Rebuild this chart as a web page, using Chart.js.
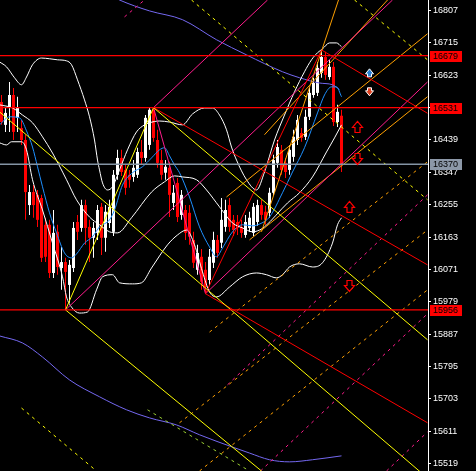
<!DOCTYPE html>
<html>
<head>
<meta charset="utf-8">
<style>
  html, body { margin: 0; padding: 0; background: #000; }
  canvas { display: block; }
</style>
<script src="https://cdn.jsdelivr.net/npm/chart.js@4.4.1/dist/chart.umd.min.js"></script>
</head>
<body>
<canvas id="chart" width="476" height="471"></canvas>
<script>
'use strict';

// candles, one per bar (bar index = position in the array)
const opens  = [16547,16482,16533,16567,16502,16473,16439,16254,16291,16283,16274,16198,16198,16061,16178,16075,16092,16027,16075,16206,
                16189,16254,16192,16161,16175,16249,16161,16203,16178,16340,16388,16354,16340,16334,16340,16405,16388,16425,16525,16439,
                16382,16346,16360,16260,16317,16226,16240,16232,16155,16070,16107,16070,16041,16090,16155,16147,16192,16254,16212,16206,
                16192,16169,16189,16175,16206,16254,16235,16232,16289,16374,16411,16374,16354,16391,16439,16459,16448,16505,16567,16573,
                16630,16675,16618,16647,16490,16508];
const highs  = [16567,16533,16604,16587,16562,16496,16454,16311,16311,16297,16283,16218,16212,16240,16198,16135,16104,16098,16206,16226,
                16269,16269,16212,16206,16254,16260,16254,16269,16354,16411,16411,16368,16354,16382,16417,16439,16510,16530,16531,16468,
                16411,16382,16377,16311,16331,16297,16254,16254,16178,16141,16129,16092,16129,16178,16169,16274,16269,16274,16226,16226,
                16212,16226,16235,16260,16269,16269,16252,16303,16397,16439,16425,16388,16425,16468,16510,16473,16525,16587,16616,16661,
                16695,16690,16667,16661,16539,16525];
const lows   = [16482,16462,16462,16439,16462,16425,16212,16226,16218,16192,16092,16092,16047,16047,16056,16013,15956,15976,16064,16155,
                16178,16141,16092,16104,16155,16112,16121,16189,16166,16326,16337,16283,16303,16320,16331,16368,16377,16411,16434,16360,
                16326,16326,16220,16240,16206,16212,16155,16141,16075,16056,16013,16002,16027,16075,16104,16132,16178,16178,16166,16169,
                16161,16161,16178,16166,16195,16212,16198,16218,16280,16360,16340,16331,16340,16377,16425,16434,16439,16496,16559,16564,
                16616,16610,16610,16479,16476,16348];
const closes = [16490,16516,16567,16462,16530,16439,16291,16291,16254,16212,16104,16107,16061,16175,16078,16092,16064,16084,16189,16178,
                16254,16189,16161,16189,16240,16161,16235,16249,16340,16388,16348,16303,16326,16360,16405,16388,16502,16525,16445,16374,
                16340,16363,16283,16289,16220,16283,16175,16164,16090,16118,16036,16021,16107,16155,16118,16212,16240,16192,16183,16189,
                16175,16206,16218,16249,16254,16226,16212,16289,16382,16419,16354,16348,16411,16448,16496,16445,16505,16573,16601,16644,
                16675,16624,16647,16490,16519,16370];

// price axis
const tickValues = [16807,16715,16623,16531,16439,16347,16255,16163,16071,15979,15887,15795,15703,15611,15519];
const redLevels = [16679, 16531, 15956];
const grayLevels = [16370];

// indicator curves: [bar, price]
const fastMa = [[-0.5,16482],[2,16505],[4.5,16502],[6.25,16465],[7.75,16419],[9,16363],[10.25,16306],[12,16232],[13.75,16175],
  [15.75,16118],[17.5,16104],[18.75,16115],[20.75,16146],[22.75,16164],[24.5,16192],[27,16212],[28.25,16240],[30.25,16311],
  [32.75,16346],[35.25,16363],[37.5,16388],[39.5,16411],[40.75,16417],[42,16394],[43.25,16368],[44.5,16346],[47,16277],
  [49.5,16192],[52,16135],[53.75,16107],[55.25,16132],[57.75,16178],[60.25,16198],[62.75,16195],[64.5,16200],[67,16220],
  [70.25,16289],[72.75,16348],[75.75,16417],[79,16516],[80.75,16567],[82.5,16590],[83.75,16590],[85,16562]];
const bandUpper = [[-0.5,16661],[1.25,16647],[3.25,16616],[5,16596],[6.25,16618],[7.75,16653],[10,16672],[12,16670],[14,16667],
  [16.25,16664],[17.5,16653],[19,16610],[20.75,16553],[22,16505],[23.25,16439],[24,16382],[24.5,16354],[25.25,16317],
  [26.5,16297],[27.75,16306],[29.5,16354],[31.5,16411],[33.75,16462],[35.75,16482],[37,16488],[39.5,16493],[42,16490],
  [45.25,16482],[47.75,16513],[50.75,16530],[52.75,16530],[54.5,16510],[56.25,16468],[57.5,16419],[58.75,16382],
  [61.25,16326],[63.75,16297],[65.75,16348],[68.25,16439],[70.75,16510],[73.25,16576],[75.75,16633],[77.5,16667],
  [79,16687],[80.25,16698],[82,16715],[83.75,16715],[85,16704]];
const bandMiddle = [[-0.5,16539],[2.75,16530],[5.25,16510],[7.75,16488],[10.25,16448],[12.75,16402],[16.25,16326],[18.75,16269],
  [22,16220],[24.5,16198],[27,16178],[29,16175],[32.5,16218],[37.5,16291],[40.75,16320],[43.25,16337],[45.25,16334],
  [48.75,16326],[51.25,16297],[54.5,16249],[57.75,16203],[60.25,16189],[62.75,16178],[64.5,16183],[65.75,16192],
  [71.5,16260],[74.5,16289],[77.75,16334],[81.25,16405],[83.25,16445],[85,16482]];
const bandLower = [[-0.5,16431],[1.25,16425],[2.5,16434],[5,16434],[6.25,16411],[7.75,16326],[10.25,16240],[12.75,16146],
  [15.25,16050],[16.25,15993],[17.5,15964],[19.5,15947],[21.5,15950],[23.75,16013],[25.25,16050],[27.75,16056],[29.5,16033],
  [32.75,16030],[35,16033],[37.5,16075],[41.5,16141],[44,16169],[46.25,16183],[48.25,16141],[50.25,16064],[52,16007],
  [53.75,15993],[57,16021],[60.25,16050],[63.75,16061],[66.25,16056],[68.75,16047],[70.25,16056],[72,16078],[74.5,16087],
  [77.75,16078],[80.25,16090],[82.75,16146],[84,16198],[85,16218]];
const slowMaHigh = [[24.5,16866],[29.5,16837],[37,16806],[45.25,16781],[53.75,16724],[61.25,16681],[70.25,16633],[74.5,16616],
  [79.5,16601],[82.75,16596],[84.5,16582]];
const slowMaLow = [[-0.5,15882],[5.25,15862],[10.25,15822],[17,15757],[24.5,15709],[31.25,15672],[37,15649],[43.75,15629],
  [49.5,15601],[57.75,15566],[62,15549],[67,15530],[72,15524],[77.75,15530],[85,15541]];

// drawn objects: [bar1, price1, bar2, price2]
const yellowLines = [[-0.5,16519,106.5,15478],[38,16531,106.5,15871],[16,15956,65,15498],[16,15956,38,16531]];
const yellowDots  = [[47.5,16837,106.5,16269],[88.25,16837,106.5,16667],[5,15677,23.75,15498]];
const greenDots   = [[36.5,15672,62,15498]];
const redLines    = [[38,16531,106.5,16084],[80,16695,106.5,16515],[51,16002,106.5,15635],[51,16002,80,16695]];
const pinkLines   = [[38,16531,51,16002],[16,15956,97.75,16837],[38,16531,66.5,16837],[51,16002,106.5,16604]];
const pinkDots    = [[30.75,16789,35.75,16837],[56.5,15743,106.5,16283],[64.75,15498,106.5,15945],[96.25,15498,106.5,15609]];
const orangeLines = [[56.25,16277,106.5,16741],[62,16155,106.5,16562],[65,16178,84.25,16837],[65.75,16454,96.5,16837]];
const orangeDots  = [[52,15893,106.5,16377],[44.5,15635,106.5,16183],[49.5,15498,106.5,16013]];

// signal arrows: [bar, price]
const buyMarks  = [[92,16630]];
const sellMarks = [[92,16576]];
const upMarks   = [[89,16476],[87,16249]];
const downMarks = [[89,16385],[87,16024]];

const bars = opens.map((o, i) => i);
const candleColors = bars.map(i => closes[i] >= opens[i] ? '#ffffff' : '#ff0000');

function segment(seg, color, dash, width) {
  return {
    type: 'line',
    data: [{x: seg[0], y: seg[1]}, {x: seg[2], y: seg[3]}],
    borderColor: color,
    borderWidth: width || 1,
    borderDash: dash || [],
    pointRadius: 0,
    fill: false,
    order: 1
  };
}

function curve(pts, color) {
  return {
    type: 'line',
    data: pts.map(p => ({x: p[0], y: p[1]})),
    borderColor: color,
    borderWidth: 1,
    pointRadius: 0,
    fill: false,
    cubicInterpolationMode: 'monotone',
    order: 5
  };
}

const datasets = [
  {
    type: 'bar',
    data: bars.map(i => ({x: i, y: [lows[i], highs[i]]})),
    backgroundColor: candleColors,
    barThickness: 1,
    grouped: false,
    inflateAmount: 0,
    order: 10
  },
  {
    type: 'bar',
    data: bars.map(i => ({x: i, y: [opens[i], closes[i]]})),
    backgroundColor: candleColors,
    barThickness: 3,
    grouped: false,
    inflateAmount: 0,
    order: 9
  },
  curve(bandUpper, '#ffffff'),
  curve(bandMiddle, '#ffffff'),
  curve(bandLower, '#ffffff'),
  curve(fastMa, '#1e90ff'),
  curve(slowMaHigh, '#7468f0'),
  curve(slowMaLow, '#7468f0')
];

redLevels.forEach(v => datasets.push(segment([-1, v, 107, v], '#ff0000', null, 1.4)));
grayLevels.forEach(v => datasets.push(segment([-1, v, 107, v], '#8494a4', null, 1.4)));
yellowLines.forEach(s => datasets.push(segment(s, '#ffff00')));
yellowDots.forEach(s => datasets.push(segment(s, '#ffff00', [3, 4])));
greenDots.forEach(s => datasets.push(segment(s, '#9acd32', [3, 4])));
redLines.forEach(s => datasets.push(segment(s, '#ff0000')));
pinkLines.forEach(s => datasets.push(segment(s, '#ff1c8c')));
pinkDots.forEach(s => datasets.push(segment(s, '#ff1c8c', [3, 4])));
orangeLines.forEach(s => datasets.push(segment(s, '#ffa000')));
orangeDots.forEach(s => datasets.push(segment(s, '#ffa000', [3, 4])));

function arrow(ctx, cx, cy, dir, headW, headH, stemW, stemH, fill, stroke, lw) {
  const total = headH + stemH;
  const tip = cy - dir * total / 2;
  const base = tip + dir * headH;
  const end = tip + dir * total;
  ctx.beginPath();
  ctx.moveTo(cx, tip);
  ctx.lineTo(cx + headW / 2, base);
  ctx.lineTo(cx + stemW / 2, base);
  ctx.lineTo(cx + stemW / 2, end);
  ctx.lineTo(cx - stemW / 2, end);
  ctx.lineTo(cx - stemW / 2, base);
  ctx.lineTo(cx - headW / 2, base);
  ctx.closePath();
  ctx.fillStyle = fill;
  ctx.fill();
  ctx.lineWidth = lw;
  ctx.strokeStyle = stroke;
  ctx.stroke();
}

const overlay = {
  id: 'overlay',
  afterDraw(chart) {
    const {ctx, chartArea, scales: {x, y}} = chart;
    ctx.save();
    ctx.beginPath();
    ctx.rect(chartArea.left, chartArea.top, chartArea.width, chartArea.height);
    ctx.clip();
    buyMarks.forEach(m => arrow(ctx, x.getPixelForValue(m[0]), y.getPixelForValue(m[1]), 1, 8, 5, 4, 3, '#2a7fd4', '#ffffff', 1));
    sellMarks.forEach(m => arrow(ctx, x.getPixelForValue(m[0]), y.getPixelForValue(m[1]), -1, 8, 5, 4, 3, '#e0401e', '#ffffff', 1));
    upMarks.forEach(m => arrow(ctx, x.getPixelForValue(m[0]), y.getPixelForValue(m[1]), 1, 10, 6, 5, 5, '#000000', '#ff0000', 1.2));
    downMarks.forEach(m => arrow(ctx, x.getPixelForValue(m[0]), y.getPixelForValue(m[1]), -1, 10, 6, 5, 5, '#000000', '#ff0000', 1.2));
    ctx.restore();

    // price boxes on the axis
    ctx.save();
    ctx.font = '9px "Liberation Sans"';
    ctx.textBaseline = 'middle';
    const boxes = redLevels.map(v => [v, '#ff0000']).concat(grayLevels.map(v => [v, '#8c98a8']));
    boxes.forEach(b => {
      const py = Math.round(y.getPixelForValue(b[0]));
      ctx.fillStyle = b[1];
      ctx.fillRect(chartArea.right + 2, py - 5, 32, 11);
      ctx.fillStyle = '#000000';
      ctx.fillText(String(b[0]), chartArea.right + 5, py + 1);
    });
    ctx.restore();
  }
};

new Chart(document.getElementById('chart'), {
  type: 'bar',
  data: {datasets: datasets},
  options: {
    responsive: false,
    animation: false,
    layout: {padding: 0},
    plugins: {legend: {display: false}, tooltip: {enabled: false}},
    scales: {
      x: {
        type: 'linear',
        min: -0.375,
        max: 106.625,
        offset: false,
        display: false
      },
      y: {
        position: 'right',
        min: 15498,
        max: 16837,
        afterBuildTicks: scale => { scale.ticks = tickValues.map(v => ({value: v})); },
        afterFit: scale => {
          scale.width = 48;
          scale.paddingTop = 0;
          scale.paddingBottom = 0;
        },
        grid: {drawOnChartArea: false, drawTicks: true, tickLength: 3, color: '#ffffff'},
        border: {display: true, color: '#ffffff', width: 1},
        ticks: {
          color: '#ffffff',
          font: {family: 'Liberation Sans', size: 9},
          padding: 2,
          autoSkip: false,
          maxRotation: 0,
          callback: v => String(v)
        }
      }
    }
  },
  plugins: [overlay]
});
</script>
</body>
</html>
